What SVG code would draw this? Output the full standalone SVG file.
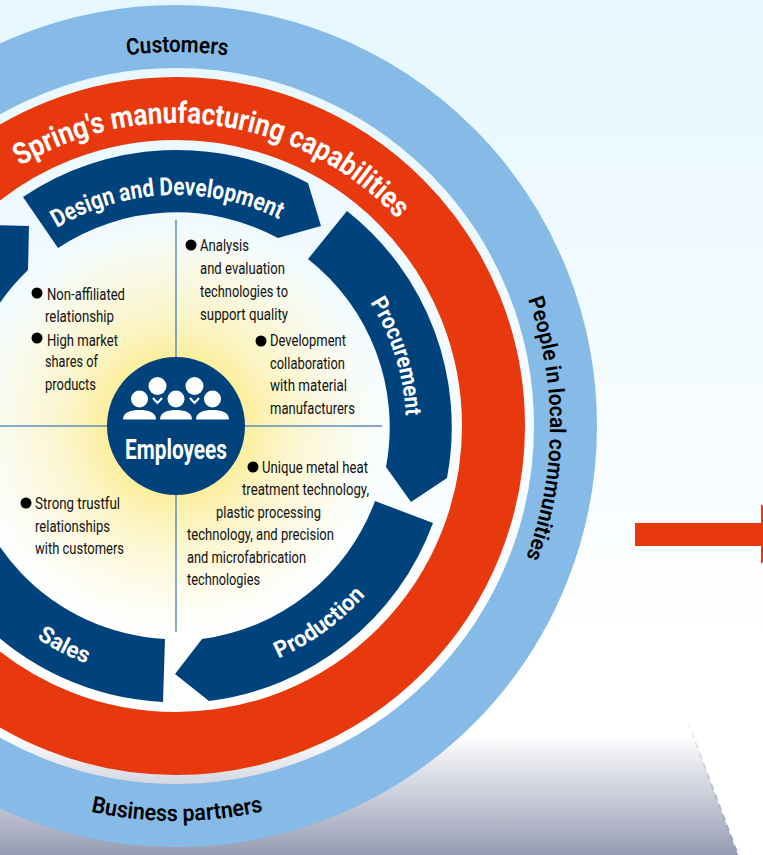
<svg xmlns="http://www.w3.org/2000/svg" width="763" height="855" viewBox="0 0 763 855">
<style>
.seg{fill:#00437c}
.ln{fill:none;stroke:#5f8fb5;stroke-width:1.5}
.t{font-family:Roboto,"Liberation Sans",sans-serif;font-size:16.5px;fill:#111}
.b{fill:#000}
.w{font-family:Roboto,"Liberation Sans",sans-serif;font-weight:700;fill:#fff}
.k{font-family:Roboto,"Liberation Sans",sans-serif;font-weight:600;fill:#000}
.i{fill:#fff}
</style>
<defs>
<linearGradient id="bg" x1="0" y1="0" x2="0" y2="1"><stop offset="0" stop-color="#e6f7ff"/><stop offset="0.75" stop-color="#ffffff"/></linearGradient>
<linearGradient id="fl" gradientUnits="userSpaceOnUse" x1="0" y1="735" x2="0" y2="855"><stop offset="0" stop-color="#fff"/><stop offset="1" stop-color="#979cb4"/></linearGradient>
<linearGradient id="ds" gradientUnits="userSpaceOnUse" x1="0" y1="722" x2="0" y2="855"><stop offset="0" stop-color="#8fa5bd" stop-opacity="0.1"/><stop offset="1" stop-color="#8fa5bd"/></linearGradient>
<radialGradient id="gl" gradientUnits="userSpaceOnUse" cx="176" cy="426" r="214"><stop offset="0.32" stop-color="#fcee9c"/><stop offset="0.5" stop-color="#fdf3b8" stop-opacity="0.8"/><stop offset="0.8" stop-color="#fef9dc" stop-opacity="0.5"/><stop offset="1" stop-color="#fffff5" stop-opacity="0"/></radialGradient>
<path id="a373" d="M-198,426A374,374 0 0 1 550,426"/>
<path id="a303" d="M-127,426A303,303 0 0 1 479,426"/>
<path id="a231" d="M-55,426A231,231 0 0 1 407,426"/>
<path id="a230" d="M-54,426A230,230 0 0 1 406,426"/>
<path id="a376" d="M-198,426A374,374 0 0 1 550,426"/>
<path id="a395" d="M-219,426A395,395 0 0 0 571,426"/>
<path id="a254" d="M-78,426A254,254 0 0 0 430,426"/>
</defs>
<rect width="763" height="855" fill="url(#bg)"/>
<polygon points="0,735 693,735 738,855 0,855" fill="url(#fl)"/>
<line x1="688" y1="722" x2="738" y2="855" stroke="url(#ds)" stroke-width="2" stroke-dasharray="6 5"/>
<circle cx="176" cy="426" r="214" fill="url(#gl)"/>
<g id="rings">
<circle cx="176" cy="426" r="389.5" fill="none" stroke="#85bbe6" stroke-width="63"/>
<circle cx="176" cy="426" r="317.5" fill="none" stroke="#e8390e" stroke-width="63"/>
</g>
<polygon id="red-arrow" points="635,523 761,523 761,504 791,534 761,564 761,546 635,546" fill="#e8390e"/>
<g id="connectors">
<line class="ln" x1="176" y1="220" x2="176" y2="632"/>
<line class="ln" x1="0" y1="426" x2="382" y2="426"/>
</g>
<g id="design"><path class="seg" d="M23,197A276,276 0 0 1 308,183L321,226L278,238A214,214 0 0 0 58,248Z"/>
<text class="w" font-size="25" text-anchor="middle" transform="rotate(-2.300 176 426)"><textPath href="#a231" startOffset="50%" textLength="232" lengthAdjust="spacingAndGlyphs">Design and Development</textPath></text></g>
<g id="procurement"><path class="seg" d="M347,211A275,275 0 0 1 447,478L411,502L386,467A214,214 0 0 0 308,259Z"/>
<text class="w" font-size="23" text-anchor="middle" transform="rotate(72.500 176 426)"><textPath href="#a230" startOffset="50%" textLength="120" lengthAdjust="spacingAndGlyphs">Procurement</textPath></text></g>
<g id="production"><path class="seg" d="M433,523A275,275 0 0 1 209,701L175,674L202,639A214,214 0 0 0 375,501Z"/>
<text class="w" font-size="23" text-anchor="middle" transform="rotate(-36 176 426)"><textPath href="#a254" startOffset="50%" textLength="108" lengthAdjust="spacingAndGlyphs">Production</textPath></text></g>
<g id="sales"><path class="seg" d="M165,639L163,702A275,275 0 0 1 -99,426L-38,426A214,214 0 0 0 165,639Z"/>
<text class="w" font-size="23" text-anchor="middle" transform="rotate(27 176 426)"><textPath href="#a254" startOffset="50%" textLength="56" lengthAdjust="spacingAndGlyphs">Sales</textPath></text></g>
<g id="left-segment"><path class="seg" d="M29,226L28,270A214,214 0 0 0 -38,426L-99,426A275,275 0 0 1 -12,225Z"/></g>
<g id="ring-labels">
<text class="k" font-size="23" text-anchor="middle" transform="rotate(0.200 176 426)"><textPath href="#a373" startOffset="50%" textLength="101" lengthAdjust="spacingAndGlyphs">Customers</textPath></text>
<text class="w" font-size="30" text-anchor="middle" transform="rotate(8 176 426)"><textPath href="#a303" startOffset="50%" textLength="412" lengthAdjust="spacingAndGlyphs">Spring's manufacturing capabilities</textPath></text>
<text class="k" font-size="22" text-anchor="middle" transform="rotate(90.400 176 426)"><textPath href="#a376" startOffset="50%" textLength="264" lengthAdjust="spacingAndGlyphs">People in local communities</textPath></text>
<text class="k" font-size="23" text-anchor="middle" transform="rotate(-0.150 176 426)"><textPath href="#a395" startOffset="50%" textLength="174" lengthAdjust="spacingAndGlyphs">Business partners</textPath></text>
</g>
<g id="employees">
<circle cx="176" cy="426" r="69" fill="#00437c"/>
<circle class="i" cx="157.500" cy="386" r="9"/><circle class="i" cx="194.500" cy="386" r="9"/>
<circle class="i" cx="139.500" cy="399" r="8.500"/><circle class="i" cx="176" cy="399" r="8.500"/><circle class="i" cx="212.500" cy="399" r="8.500"/>
<path class="i" d="M123,419.500C123,412 131,410 139.500,410C148,410 156,412 156,419.500Z"/>
<path class="i" d="M160,419.500C160,412 168,410 176,410C184,410 192,412 192,419.500Z"/>
<path class="i" d="M196,419.500C196,412 204,410 212.500,410C221,410 229,412 229,419.500Z"/>
<path d="M153,398L157.500,403L162,398M190,398L194.500,403L199,398" fill="none" stroke="#fff" stroke-width="2"/>
<text class="w" x="176" y="459" font-size="27" text-anchor="middle" textLength="102" lengthAdjust="spacingAndGlyphs">Employees</text>
</g>
<g id="notes">
<circle class="b" cx="37" cy="293" r="5.500"/><circle class="b" cx="37" cy="338" r="5.500"/><circle class="b" cx="191" cy="245" r="5.500"/><circle class="b" cx="261" cy="341" r="5.500"/><circle class="b" cx="253" cy="467" r="5.500"/><circle class="b" cx="26" cy="503" r="5.500"/>
<text class="t" x="47" y="300" textLength="78" lengthAdjust="spacingAndGlyphs">Non-affiliated</text>
<text class="t" x="45" y="322" textLength="69" lengthAdjust="spacingAndGlyphs">relationship</text>
<text class="t" x="47" y="346" textLength="71" lengthAdjust="spacingAndGlyphs">High market</text>
<text class="t" x="45" y="367" textLength="53" lengthAdjust="spacingAndGlyphs">shares of</text>
<text class="t" x="45" y="390" textLength="51" lengthAdjust="spacingAndGlyphs">products</text>
<text class="t" x="200" y="251" textLength="49" lengthAdjust="spacingAndGlyphs">Analysis</text>
<text class="t" x="200" y="274" textLength="85" lengthAdjust="spacingAndGlyphs">and evaluation</text>
<text class="t" x="200" y="297" textLength="88" lengthAdjust="spacingAndGlyphs">technologies to</text>
<text class="t" x="200" y="320" textLength="88" lengthAdjust="spacingAndGlyphs">support quality</text>
<text class="t" x="270" y="346" textLength="76" lengthAdjust="spacingAndGlyphs">Development</text>
<text class="t" x="270" y="369" textLength="75" lengthAdjust="spacingAndGlyphs">collaboration</text>
<text class="t" x="270" y="391" textLength="77" lengthAdjust="spacingAndGlyphs">with material</text>
<text class="t" x="270" y="414" textLength="85" lengthAdjust="spacingAndGlyphs">manufacturers</text>
<text class="t" x="262" y="473" textLength="106" lengthAdjust="spacingAndGlyphs">Unique metal heat</text>
<text class="t" x="242" y="495" textLength="127" lengthAdjust="spacingAndGlyphs">treatment technology,</text>
<text class="t" x="216" y="518" textLength="105" lengthAdjust="spacingAndGlyphs">plastic processing</text>
<text class="t" x="187" y="540" textLength="147" lengthAdjust="spacingAndGlyphs">technology, and precision</text>
<text class="t" x="187" y="563" textLength="119" lengthAdjust="spacingAndGlyphs">and microfabrication</text>
<text class="t" x="187" y="585" textLength="73" lengthAdjust="spacingAndGlyphs">technologies</text>
<text class="t" x="35" y="509" textLength="85" lengthAdjust="spacingAndGlyphs">Strong trustful</text>
<text class="t" x="35" y="532" textLength="75" lengthAdjust="spacingAndGlyphs">relationships</text>
<text class="t" x="35" y="554" textLength="89" lengthAdjust="spacingAndGlyphs">with customers</text>
</g>
</svg>
